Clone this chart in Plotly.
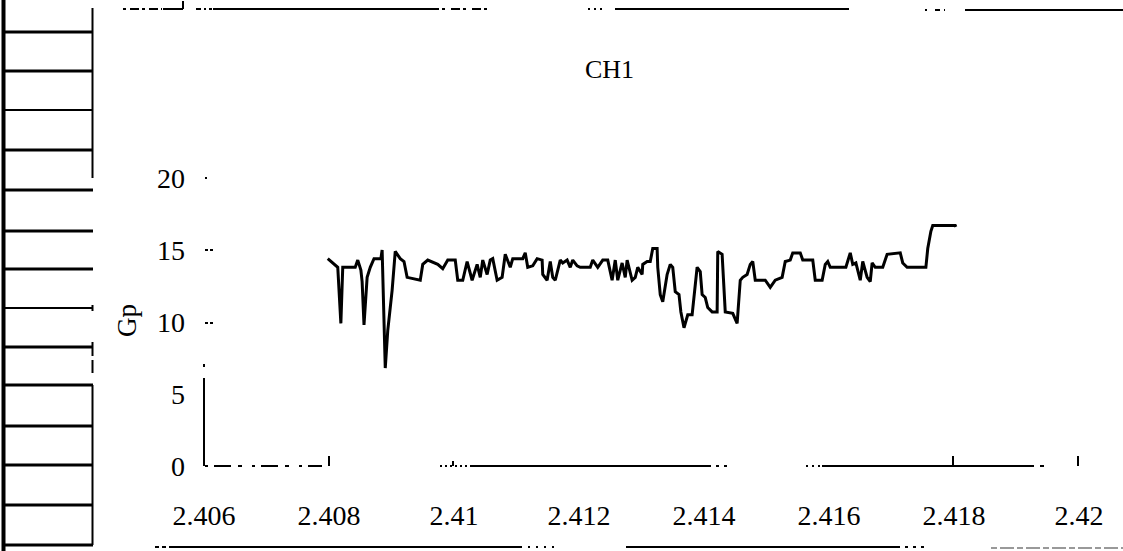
import plotly.graph_objects as go

# CH1 sweep: frequency (GHz) vs Gp
freq = [2.40798, 2.40814, 2.40819, 2.40822, 2.40842, 2.40846, 2.40851, 2.40853, 2.40856, 2.40861,
        2.40866, 2.40872, 2.40883, 2.40885, 2.40890, 2.40894, 2.40901, 2.40906, 2.40914, 2.40920,
        2.40925, 2.40946, 2.40950, 2.40958, 2.40974, 2.40982, 2.40990, 2.41002, 2.41006, 2.41014,
        2.41021, 2.41029, 2.41037, 2.41042, 2.41046, 2.41053, 2.41058, 2.41062, 2.41069, 2.41077,
        2.41082, 2.41090, 2.41094, 2.41110, 2.41114, 2.41118, 2.41126, 2.41133, 2.41141, 2.41142,
        2.41149, 2.41154, 2.41158, 2.41162, 2.41170, 2.41174, 2.41181, 2.41186, 2.41190, 2.41197,
        2.41202, 2.41218, 2.41222, 2.41230, 2.41238, 2.41246, 2.41253, 2.41258, 2.41262, 2.41269,
        2.41274, 2.41277, 2.41285, 2.41290, 2.41294, 2.41301, 2.41302, 2.41309, 2.41314, 2.41318,
        2.41325, 2.41326, 2.41330, 2.41334, 2.41341, 2.41346, 2.41350, 2.41354, 2.41360, 2.41363,
        2.41368, 2.41374, 2.41381, 2.41386, 2.41389, 2.41394, 2.41397, 2.41402, 2.41406, 2.41413,
        2.41421, 2.41422, 2.41429, 2.41434, 2.41446, 2.41453, 2.41458, 2.41462, 2.41469, 2.41474,
        2.41478, 2.41482, 2.41498, 2.41506, 2.41514, 2.41525, 2.41530, 2.41538, 2.41542, 2.41554,
        2.41558, 2.41574, 2.41578, 2.41589, 2.41594, 2.41598, 2.41602, 2.41627, 2.41634, 2.41638,
        2.41643, 2.41650, 2.41654, 2.41661, 2.41666, 2.41669, 2.41674, 2.41686, 2.41693, 2.41714,
        2.41718, 2.41725, 2.41755, 2.41758, 2.41763, 2.41766, 2.41802, 2.41803]
gp = [14.4, 13.8, 9.9, 13.8, 13.8, 14.3, 13.6, 12.8, 9.8, 13.1,
      13.8, 14.4, 14.4, 15.0, 6.8, 9.4, 12.2, 14.9, 14.4, 14.2,
      13.1, 12.9, 14.0, 14.3, 14.0, 13.7, 14.3, 14.3, 12.9, 12.9,
      14.2, 12.9, 14.0, 13.1, 14.3, 13.3, 14.3, 14.4, 12.9, 13.1,
      14.7, 13.8, 14.4, 14.4, 14.8, 13.8, 13.9, 14.4, 14.3, 13.3,
      12.9, 14.2, 13.1, 12.9, 14.3, 14.1, 14.3, 13.8, 14.3, 13.9,
      13.8, 13.8, 14.3, 13.8, 14.3, 14.3, 12.9, 14.3, 12.9, 14.1,
      13.1, 14.3, 12.9, 13.1, 13.8, 13.3, 14.0, 14.2, 14.2, 15.1,
      15.1, 13.8, 11.9, 11.4, 13.3, 14.0, 13.8, 12.1, 11.9, 10.7,
      9.6, 10.5, 10.5, 12.6, 13.8, 13.5, 11.9, 11.7, 11.0, 10.7,
      10.7, 14.9, 14.7, 10.7, 10.6, 9.9, 12.9, 13.1, 13.3, 14.0,
      14.2, 12.9, 12.9, 12.4, 12.9, 13.1, 14.2, 14.3, 14.8, 14.8,
      14.3, 14.3, 12.9, 12.9, 14.0, 14.2, 13.8, 13.8, 14.8, 14.0,
      14.1, 12.9, 14.2, 13.1, 12.8, 14.1, 13.8, 13.8, 14.7, 14.8,
      14.1, 13.8, 13.8, 15.1, 16.3, 16.7, 16.7, 16.6]

x_ticks = [2.406, 2.408, 2.41, 2.412, 2.414, 2.416, 2.418, 2.42]
x_tick_text = ["2.406", "2.408", "2.41", "2.412", "2.414", "2.416", "2.418", "2.42"]
y_ticks = [0, 5, 10, 15, 20]
y_tick_text = ["0", "5", "10", "15", "20"]

W, H = 1123, 551
L, R, T, B = 204, 44, 106, 85
PW, PH = W - L - R, H - T - B
SERIF = "Liberation Serif, Times New Roman, serif"


def px(x):
    return (x - L) / PW


def py(y):
    return (H - B - y) / PH


def seg(x0, y0, x1, y1, width=2, dash="solid", color="black"):
    return dict(type="line", xref="paper", yref="paper",
                x0=px(x0), y0=py(y0), x1=px(x1), y1=py(y1),
                line=dict(color=color, width=width, dash=dash), layer="above")


shapes = []
# ruled table at the left edge of the page
shapes.append(seg(3.5, 0, 3.5, 551, width=4))
shapes.append(seg(92.5, 8, 92.5, 178, width=2))
shapes.append(seg(92.5, 305, 92.5, 311, width=2))
shapes.append(seg(92.5, 342, 92.5, 356, width=2))
shapes.append(seg(92.5, 360, 92.5, 373, width=2))
shapes.append(seg(92.5, 385, 92.5, 545, width=2))
for yy, w in [(32, 3), (71, 3), (110, 2), (150, 3), (190, 3), (231, 3), (269, 3),
              (308, 2), (347, 3), (385, 3), (426, 3), (465, 3), (505, 3), (545, 3)]:
    shapes.append(seg(4, yy, 93, yy, width=w))

# page rules above and below the figure
shapes.append(seg(123, 9, 162, 9, width=2, dash="3px,4px,9px,3px"))
shapes.append(seg(163, 9, 183, 9, width=2))
shapes.append(seg(183, 1, 183, 9, width=2))
shapes.append(seg(196, 9, 212, 9, width=2, dash="5px,3px,2px,3px"))
shapes.append(seg(213, 9, 430, 9, width=2))
shapes.append(seg(430, 9, 490, 9, width=2, dash="9px,3px,3px,6px"))
shapes.append(seg(588, 9, 602, 9, width=2, dash="2px,4px"))
shapes.append(seg(615, 9, 849, 9, width=2))
shapes.append(seg(925, 10, 945, 10, width=2, dash="2px,8px,5px,4px"))
shapes.append(seg(965, 10, 1123, 10, width=2))
shapes.append(seg(155, 547, 172, 547, width=2, dash="4px,3px"))
shapes.append(seg(172, 547, 520, 547, width=2))
shapes.append(seg(520, 547, 555, 547, width=2, dash="2px,6px"))
shapes.append(seg(626, 547, 897, 547, width=2))
shapes.append(seg(897, 547, 925, 547, width=2, dash="3px,5px"))
shapes.append(seg(991, 548, 1123, 548, width=2, dash="6px,3px,14px,3px", color="#999999"))

# broken axis lines
shapes.append(seg(204, 466, 204, 378, width=2))
shapes.append(seg(204, 364, 204, 367, width=2))
shapes.append(seg(205, 466, 322, 466, width=2, dash="3px,6px,17px,7px,4px,10px"))
shapes.append(seg(329, 466, 329, 456, width=2))
shapes.append(seg(440, 466, 472, 466, width=2, dash="2px,3px"))
shapes.append(seg(453, 466, 453, 461, width=2))
shapes.append(seg(472, 466, 708, 466, width=2))
shapes.append(seg(708, 466, 732, 466, width=2, dash="3px,5px"))
shapes.append(seg(806, 466, 822, 466, width=2, dash="2px,4px"))
shapes.append(seg(822, 466, 1030, 466, width=2))
shapes.append(seg(1030, 466, 1045, 466, width=2, dash="4px,6px"))
shapes.append(seg(953, 466, 953, 456, width=2))
shapes.append(seg(1078, 466, 1078, 456, width=2))
shapes.append(seg(205, 250, 213, 250, width=2, dash="3px,2px"))
shapes.append(seg(205, 323, 213, 323, width=2, dash="3px,2px"))
shapes.append(seg(205, 178, 207, 178, width=2))

fig = go.Figure()
fig.add_trace(go.Scatter(
    x=freq, y=gp, mode="lines",
    line=dict(color="black", width=3),
    showlegend=False, hoverinfo="skip",
))

fig.update_layout(
    width=W, height=H,
    margin=dict(l=L, r=R, t=T, b=B),
    paper_bgcolor="white", plot_bgcolor="white",
    font=dict(family=SERIF, color="black", size=28),
    shapes=shapes,
    annotations=[
        dict(text="CH1", xref="paper", yref="paper", x=px(609), y=py(70),
             showarrow=False, font=dict(family=SERIF, size=26, color="black"),
             xanchor="center", yanchor="middle"),
        dict(text="Gp", xref="paper", yref="paper", x=px(127), y=py(321),
             showarrow=False, textangle=-90,
             font=dict(family=SERIF, size=27, color="black"),
             xanchor="center", yanchor="middle"),
    ],
    xaxis=dict(range=[2.406, 2.42], tickvals=x_ticks, ticktext=x_tick_text,
               showgrid=False, zeroline=False, showline=False, ticks="",
               ticklabelstandoff=30, tickfont=dict(family=SERIF, size=28, color="black")),
    yaxis=dict(range=[0, 25], tickvals=y_ticks, ticktext=y_tick_text,
               showgrid=False, zeroline=False, showline=False, ticks="",
               ticklabelstandoff=18, tickfont=dict(family=SERIF, size=28, color="black")),
)

fig.write_html("out.html")
